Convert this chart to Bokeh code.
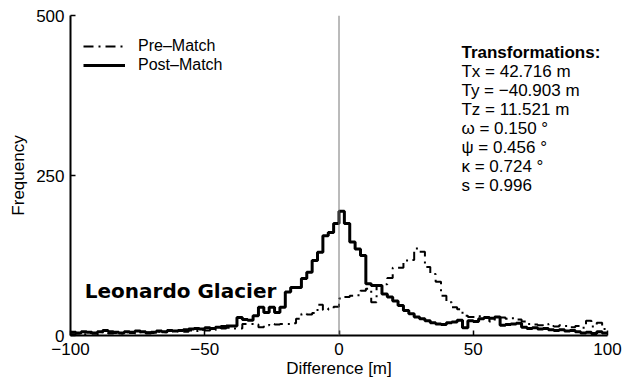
import numpy as np
from bokeh.plotting import figure
from bokeh.models import Range1d, Span, Legend, LegendItem, FixedTicker, Label
from bokeh.embed import file_html
from bokeh.resources import INLINE

# ---- data ----
bin_edges = np.arange(-100, 101, 2)

pre_match = [
    2, 3, 2, 4, 3, 2, 5, 3, 4, 3, 5, 4, 3, 6, 5, 4, 6, 5, 7, 6,
    7, 6, 8, 7, 9, 8, 10, 9, 11, 12,
    11, 11, 18, 18, 17, 13, 16, 18, 17, 18,
    18, 19, 26, 34, 33, 35, 48, 40, 42, 45,
    58, 60, 62, 63, 70, 73, 52, 78, 80, 90,
    106, 106, 117, 118, 136, 131, 107, 96, 84, 62,
    52, 44, 41, 31, 29, 29, 30, 28, 22, 27,
    28, 26, 27, 25, 22, 18, 17, 16, 18, 15,
    14, 16, 15, 13, 15, 12, 23, 14, 20, 10,
]

post_match = [
    5, 4, 6, 5, 4, 6, 8, 6, 5, 4, 6, 5, 7, 6, 4, 5, 7, 6, 8, 7,
    8, 9, 10, 11, 10, 12, 11, 13, 14, 15,
    15, 28, 25, 24, 31, 44, 36, 44, 36, 44,
    68, 75, 75, 89, 99, 117, 130, 156, 161, 175,
    194, 175, 146, 135, 125, 81, 78, 78, 65, 60,
    54, 47, 39, 34, 29, 26, 23, 20, 18, 17,
    20, 21, 24, 12, 23, 22, 26, 28, 27, 29,
    16, 17, 18, 19, 13, 11, 12, 10, 11, 9,
    8, 9, 7, 8, 6, 4, 5, 3, 6, 4,
]

x_ticks = [-100, -50, 0, 50, 100]
x_tick_labels = ["\u2212100", "\u221250", "0", "50", "100"]
y_ticks = [0, 250, 500]
y_tick_labels = ["0", "250", "500"]

series_names = ["Pre\u2013Match", "Post\u2013Match"]
site_name = "Leonardo Glacier"
transform_title = "Transformations:"
transform_lines = [
    "Tx = 42.716 m",
    "Ty = \u221240.903 m",
    "Tz = 11.521 m",
    "\u03c9 = 0.150 \u00b0",
    "\u03c8 = 0.456 \u00b0",
    "\u03ba = 0.724 \u00b0",
    "s = 0.996",
]

FONT = "Liberation Sans"

p = figure(width=633, height=381, output_backend="svg", toolbar_location=None,
           x_range=Range1d(-100, 100), y_range=Range1d(0, 500),
           min_border_left=70, min_border_right=26, min_border_top=15,
           min_border_bottom=46)
p.outline_line_color = None
p.xgrid.visible = False
p.ygrid.visible = False
p.background_fill_color = "white"
p.border_fill_color = "white"

# zero line
p.add_layout(Span(location=0, dimension="height", line_color="#777777", line_width=1))

pre_y = np.append(pre_match, pre_match[-1])
post_y = np.append(post_match, post_match[-1])

r_pre = p.step(x=bin_edges, y=pre_y, mode="after", line_color="black",
               line_width=2, line_dash="10 5 2 5")
r_post = p.step(x=bin_edges, y=post_y, mode="after", line_color="black",
                line_width=3)

legend = Legend(items=[LegendItem(label=series_names[0], renderers=[r_pre]),
                       LegendItem(label=series_names[1], renderers=[r_post])],
                location=(13, 261), margin=0, padding=0, spacing=1,
                glyph_width=42, glyph_height=18, label_height=18,
                label_standoff=13, border_line_color=None,
                background_fill_alpha=0,
                label_text_font=FONT, label_text_font_size="16px",
                label_text_color="black")
p.add_layout(legend)

# axes
for ax in (p.xaxis, p.yaxis):
    ax.axis_line_width = 2
    ax.axis_line_color = "black"
    ax.major_tick_in = 5
    ax.major_tick_out = 0
    ax.minor_tick_in = 0
    ax.minor_tick_out = 0
    ax.major_tick_line_width = 1.5
    ax.major_label_text_font = FONT
    ax.major_label_text_font_size = "17px"
    ax.major_label_text_color = "black"
    ax.axis_label_text_font = FONT
    ax.axis_label_text_font_size = "17px"
    ax.axis_label_text_font_style = "normal"
    ax.axis_label_text_color = "black"

p.xaxis.ticker = FixedTicker(ticks=x_ticks)
p.xaxis.major_label_overrides = dict(zip(x_ticks, x_tick_labels))
p.yaxis.ticker = FixedTicker(ticks=y_ticks)
p.yaxis.major_label_overrides = dict(zip(y_ticks, y_tick_labels))
p.xaxis.axis_label = "Difference [m]"
p.yaxis.axis_label = "Frequency"
p.xaxis.major_label_standoff = 7
p.xaxis.axis_label_standoff = 1
p.yaxis.major_label_standoff = 6
p.yaxis.axis_label_standoff = 5

# annotations
p.add_layout(Label(x=-94.7, y=70, text=site_name, text_font="DejaVu Sans",
                   text_font_style="bold", text_font_size="20px",
                   text_baseline="alphabetic", text_color="black"))

p.add_layout(Label(x=45.6, y=442, text=transform_title, text_font=FONT,
                   text_font_style="bold", text_font_size="17px",
                   text_baseline="middle", text_color="black"))
for i, line in enumerate(transform_lines):
    p.add_layout(Label(x=45.6, y=412 - i * 29.5, text=line, text_font=FONT,
                       text_font_size="17px", text_baseline="middle",
                       text_color="black"))

open("out.html", "w").write(file_html(p, INLINE))
